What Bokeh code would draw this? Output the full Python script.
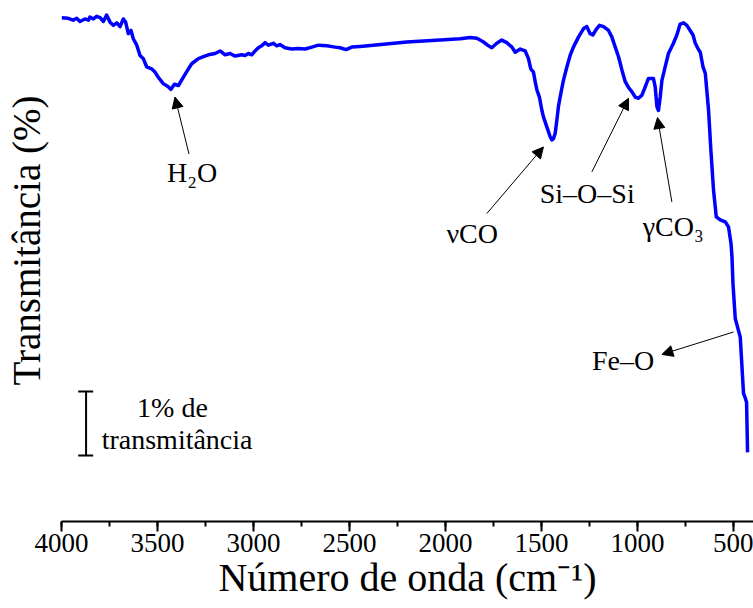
import numpy as np
from bokeh.plotting import figure
from bokeh.models import Range1d, SingleIntervalTicker, FixedTicker, Title, Arrow, NormalHead, ColumnDataSource
from bokeh.core.properties import value
from bokeh.embed import file_html
from bokeh.resources import INLINE

# ---- data ----
wavenumber = [3999, 3965, 3939, 3921, 3904, 3878, 3860, 3852, 3834, 3817,
              3799, 3782, 3765, 3747, 3730, 3712, 3695, 3678, 3666, 3652,
              3638, 3626, 3608, 3591, 3574, 3556, 3530, 3513, 3496, 3470,
              3444, 3430, 3412, 3391, 3365, 3339, 3322, 3287, 3261, 3235,
              3200, 3174, 3148, 3122, 3096, 3061,
              3044, 3027, 3009, 2992, 2975, 2957, 2940, 2923, 2897, 2879,
              2862, 2836, 2801, 2766, 2731, 2696, 2662, 2618, 2575, 2549,
              2518, 2488, 2445, 2377, 2202, 2028, 1924, 1872, 1837, 1820,
              1802, 1776, 1759, 1733, 1707, 1681, 1654, 1637, 1611, 1585, 1568,
              1556, 1542, 1533, 1524, 1511, 1498, 1490, 1472, 1455, 1446,
              1438, 1429, 1420, 1412, 1403, 1386, 1368, 1351, 1334, 1307,
              1281, 1264, 1247, 1233, 1212, 1198, 1177, 1151, 1134, 1116,
              1099, 1081, 1064, 1047, 1029, 1012, 995, 977, 960, 943,
              917, 908, 899, 891, 882, 873, 856, 839, 813, 795,
              778, 760, 743, 726, 711, 699, 682, 673, 659, 647,
              630, 618, 604, 590, 569, 543, 526, 513, 508, 503,
              491, 465, 448, 440, 432, 427]
transmittance = [88.79, 88.78, 88.75, 88.78, 88.73, 88.77, 88.75, 88.80, 88.77, 88.81,
                 88.79, 88.73, 88.83, 88.72, 88.67, 88.71, 88.65, 88.77, 88.72, 88.54,
                 88.59, 88.46, 88.36, 88.20, 88.15, 88.02, 87.99, 87.94, 87.86, 87.76,
                 87.71, 87.67, 87.75, 87.73, 87.86, 87.99, 88.07, 88.15, 88.18, 88.21,
                 88.23, 88.27, 88.21, 88.23, 88.19, 88.21,
                 88.20, 88.23, 88.21, 88.27, 88.32, 88.35, 88.40, 88.36, 88.39, 88.35,
                 88.37, 88.32, 88.30, 88.31, 88.30, 88.33, 88.36, 88.35, 88.33, 88.32,
                 88.29, 88.33, 88.34, 88.36, 88.41, 88.44, 88.46, 88.48, 88.47, 88.44,
                 88.41, 88.35, 88.32, 88.39, 88.44, 88.40, 88.33, 88.25, 88.30, 88.27, 88.15,
                 87.99, 87.94, 87.79, 87.66, 87.55, 87.34, 87.24, 87.08, 86.93, 86.88,
                 86.90, 86.98, 87.19, 87.40, 87.55, 87.81, 88.02, 88.20, 88.33, 88.49,
                 88.62, 88.65, 88.54, 88.52, 88.62, 88.67, 88.65, 88.59, 88.49, 88.33,
                 88.18, 87.97, 87.79, 87.70, 87.63, 87.55, 87.53, 87.58, 87.71, 87.84,
                 87.84, 87.71, 87.40, 87.34, 87.55, 87.81, 88.02, 88.23, 88.39, 88.52,
                 88.69, 88.71, 88.67, 88.59, 88.52, 88.39, 88.29, 88.25, 88.02, 87.92,
                 87.34, 86.72, 86.09, 85.68, 85.63, 85.60, 85.52, 85.26, 85.05, 84.64,
                 84.09, 83.80, 82.92, 82.86, 82.78, 82.00]

# band annotations: label, text position, arrow tail, arrow tip (wavenumber, T)
band_labels = ["H\u2082O", "\u03bdCO", "Si\u2013O\u2013Si", "\u03b3CO\u2083", "Fe\u2013O"]
label_x = [3320, 1861, 1262, 814, 1075]
label_y = [86.375, 85.42, 86.05, 85.53, 83.44]
tail_x = [3336, 1785, 1238, 821, 500]
tail_y = [86.66, 85.73, 86.38, 85.91, 83.88]
tip_x = [3409, 1490, 1047, 896, 873]
tip_y = [87.55, 86.77, 87.53, 87.23, 83.53]

# scale bar: 1 % transmittance
bar_x = 3872
bar_y0 = 81.95
bar_len = 1.0
bar_text = ["1% de", "transmit\u00e2ncia"]
bar_text_x = [3422, 3398]
bar_text_y = [82.70, 82.20]

FONT = "Liberation Serif, Times New Roman, serif"

p = figure(width=753, height=608, output_backend="svg", toolbar_location=None,
           x_range=Range1d(4000, 396), y_range=Range1d(80.92, 88.98),
           min_border_left=61, min_border_right=0, min_border_top=5, min_border_bottom=87)
p.outline_line_color = None
p.xgrid.visible = False
p.ygrid.visible = False
p.background_fill_color = "white"

# left axis kept without line, tick marks or labels: it only spaces the y title
yax = p.yaxis[0]
yax.ticker = FixedTicker(ticks=[85], minor_ticks=[])
yax.major_label_overrides = {85: ""}
yax.axis_line_color = None
yax.major_tick_in = 0
yax.major_tick_out = 13
yax.minor_tick_in = 0
yax.minor_tick_out = 0
yax.major_tick_line_color = None
yax.minor_tick_line_color = None
yax.major_label_standoff = 0

ax = p.xaxis[0]
ax.ticker = SingleIntervalTicker(interval=500, num_minor_ticks=2)
ax.axis_line_width = 2
ax.major_tick_line_width = 2
ax.minor_tick_line_width = 2
ax.major_tick_in = 0
ax.major_tick_out = 10
ax.minor_tick_in = 0
ax.minor_tick_out = 5
ax.major_label_text_font = FONT
ax.major_label_text_font_size = "27px"
ax.major_label_text_color = "black"
ax.major_label_standoff = 2
ax.axis_label = "N\u00famero de onda (cm\u207b\u00b9)"
ax.axis_label_text_font = FONT
ax.axis_label_text_font_size = "40px"
ax.axis_label_text_font_style = "normal"
ax.axis_label_text_color = "black"
ax.axis_label_standoff = 0

p.line(wavenumber, transmittance, line_color="#0000ff", line_width=3.5, line_join="round")

src = ColumnDataSource(dict(x=label_x, y=label_y, t=band_labels))
p.text(x="x", y="y", text="t", source=src, text_font=value(FONT), text_font_size="28px",
       text_align="center", text_baseline="middle", text_color="black")

for i in range(len(band_labels)):
    p.add_layout(Arrow(x_start=tail_x[i], y_start=tail_y[i], x_end=tip_x[i], y_end=tip_y[i],
                       line_width=1, line_color="black",
                       end=NormalHead(size=11, fill_color="black", line_color="black", line_width=1)))

# scale bar
p.segment(x0=[bar_x], y0=[bar_y0], x1=[bar_x], y1=[bar_y0 + bar_len], line_color="black", line_width=2)
p.segment(x0=[bar_x - 37, bar_x - 37], y0=[bar_y0, bar_y0 + bar_len],
          x1=[bar_x + 41, bar_x + 41], y1=[bar_y0, bar_y0 + bar_len], line_color="black", line_width=2)
p.text(x=bar_text_x, y=bar_text_y, text=bar_text, text_font=value(FONT),
       text_font_size="28px", text_align="center", text_baseline="middle", text_color="black")

# y title
ytitle = Title(text="Transmit\u00e2ncia (%)", align="left", offset=136, vertical_align="middle",
               text_font=FONT, text_font_size="39px", text_font_style="normal", text_color="black",
               standoff=0)
p.add_layout(ytitle, "left")

open("out.html", "w").write(file_html(p, INLINE))
